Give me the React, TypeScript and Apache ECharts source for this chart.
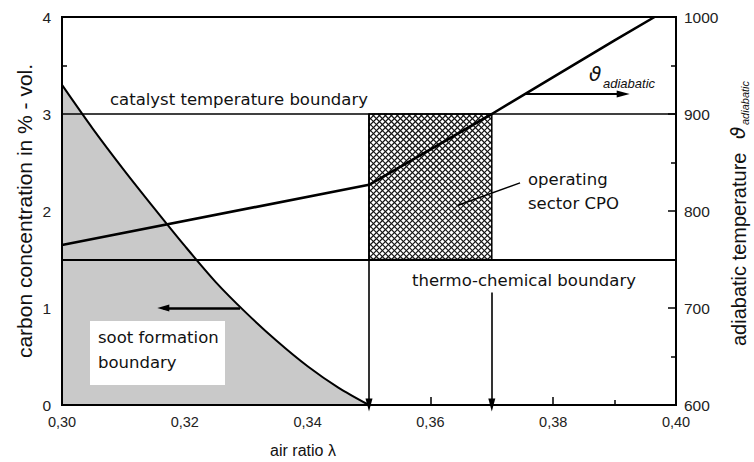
import React, { useEffect, useRef } from "react";
import * as echarts from "echarts";

// ---- data ----
const xTicks = [0.3, 0.32, 0.34, 0.36, 0.38, 0.4];
const lambdaSoot = [0.3, 0.305, 0.31, 0.315, 0.32, 0.325, 0.33, 0.335, 0.34, 0.345, 0.35];
const carbonSoot = [3.3, 2.85, 2.43, 2.03, 1.64, 1.27, 0.95, 0.66, 0.4, 0.18, 0];
const lambdaTemp = [0.3, 0.35, 0.37, 0.38, 0.39, 0.3965];
const tempAdiabatic = [765, 827, 900, 938, 976, 1000];
const catalystBoundary = 3.0; // carbon axis
const thermoBoundary = 1.5; // carbon axis
const operatingLambda = [0.35, 0.37];
const operatingCarbon = [1.5, 3.0];
const sootArrow = { from: [0.329, 1.0], to: [0.3165, 1.0] };
const tempArrow = { from: [0.3755, 3.206], to: [0.3914, 3.206] };
const leader = { from: [0.3746, 2.29], to: [0.3645, 2.06] };
const arrow037Start = 1.16;

const FONT = "DejaVu Sans";
const TICKFONT = "Liberation Sans, Arial, sans-serif";

function hatchItem(params: any, api: any) {
  const p0 = api.coord([api.value(0), api.value(1)]);
  const p1 = api.coord([api.value(2), api.value(3)]);
  const x0 = Math.min(p0[0], p1[0]);
  const x1 = Math.max(p0[0], p1[0]);
  const y0 = Math.min(p0[1], p1[1]);
  const y1 = Math.max(p0[1], p1[1]);
  const s = 6;
  const children: any[] = [];
  const style = { stroke: "#111", lineWidth: 1.1 };
  for (let k = y0 - x1; k <= y1 - x0; k += s) {
    const xa = Math.max(x0, y0 - k);
    const xb = Math.min(x1, y1 - k);
    if (xa < xb) children.push({ type: "line", shape: { x1: xa, y1: xa + k, x2: xb, y2: xb + k }, style });
  }
  for (let k = x0 + y0; k <= x1 + y1; k += s) {
    const xa = Math.max(x0, k - y1);
    const xb = Math.min(x1, k - y0);
    if (xa < xb) children.push({ type: "line", shape: { x1: xa, y1: k - xa, x2: xb, y2: k - xb }, style });
  }
  children.push({
    type: "rect",
    shape: { x: x0, y: y0, width: x1 - x0, height: y1 - y0 },
    style: { fill: "none", stroke: "#000", lineWidth: 1.5 },
  });
  return { type: "group", children };
}

export default function App() {
  const ref = useRef<HTMLDivElement>(null);
  useEffect(() => {
    document.body.style.margin = "0";
    const chart = echarts.init(ref.current!, null, { renderer: "svg" });
    const lineSt = { color: "#000", width: 1.6, type: "solid" as const };
    const option: any = {
      animation: false,
      backgroundColor: "#fff",
      grid: { left: 62, right: 78, top: 17, bottom: 57, show: true, borderColor: "#000", borderWidth: 2, backgroundColor: "transparent", z: 10 },
      xAxis: {
        type: "value",
        min: 0.3,
        max: 0.4,
        interval: 0.02,
        axisLine: { show: true, lineStyle: { color: "#000", width: 2 } },
        axisTick: { show: true, inside: true, length: 8, lineStyle: { color: "#000", width: 1.5 } },
        minorTick: { show: true, splitNumber: 2, length: 5, lineStyle: { color: "#000", width: 1.5 } },
        splitLine: { show: false },
        axisLabel: {
          color: "#222",
          fontFamily: TICKFONT,
          fontSize: 14.5,
          margin: 9,
          formatter: (v: number) => v.toFixed(2).replace(".", ","),
        },
      },
      yAxis: [
        {
          type: "value",
          min: 0,
          max: 4,
          interval: 1,
          position: "left",
          axisLine: { show: true, lineStyle: { color: "#000", width: 2 } },
          axisTick: { show: true, inside: true, length: 8, lineStyle: { color: "#000", width: 1.5 } },
          minorTick: { show: true, splitNumber: 2, length: 5, lineStyle: { color: "#000", width: 1.5 } },
          splitLine: { show: false },
          axisLabel: { color: "#222", fontFamily: TICKFONT, fontSize: 15.5, margin: 11 },
        },
        {
          type: "value",
          min: 600,
          max: 1000,
          interval: 100,
          position: "right",
          axisLine: { show: true, lineStyle: { color: "#000", width: 2 } },
          axisTick: { show: true, inside: true, length: 8, lineStyle: { color: "#000", width: 1.5 } },
          minorTick: { show: true, splitNumber: 2, length: 5, lineStyle: { color: "#000", width: 1.5 } },
          splitLine: { show: false },
          axisLabel: { color: "#222", fontFamily: TICKFONT, fontSize: 15.5, margin: 8, formatter: (v: number) => String(v) },
        },
      ],
      series: [
        {
          type: "line",
          name: "soot",
          data: lambdaSoot.map((l, i) => [l, carbonSoot[i]]),
          smooth: 0.3,
          symbol: "none",
          z: 1,
          lineStyle: { color: "#000", width: 2 },
          areaStyle: { color: "#c9c9c9", opacity: 1, origin: "start" },
          markLine: {
            silent: true,
            z: 3,
            label: { show: false },
            data: [
              [
                { coord: sootArrow.from, symbol: "none" },
                { coord: sootArrow.to, symbol: "triangle", symbolSize: [7, 12] },
              ],
            ],
            lineStyle: { color: "#000", width: 2.5, type: "solid" },
          },
        },
        {
          type: "custom",
          name: "operating",
          renderItem: hatchItem,
          encode: { x: [0, 2], y: [1, 3] },
          data: [[operatingLambda[0], operatingCarbon[1], operatingLambda[1], operatingCarbon[0]]],
          z: 2,
          silent: true,
        },
        {
          type: "line",
          name: "lines",
          data: [],
          symbol: "none",
          z: 3,
          markLine: {
            silent: true,
            symbol: ["none", "none"],
            label: { show: false },
            lineStyle: lineSt,
            data: [
              [{ coord: [0.3, catalystBoundary] }, { coord: [0.4, catalystBoundary] }],
              [{ coord: [0.3, thermoBoundary], lineStyle: { width: 2 } }, { coord: [0.4, thermoBoundary] }],
              [
                { coord: [operatingLambda[0], operatingCarbon[1]], symbol: "none" },
                { coord: [operatingLambda[0], 0], symbol: "triangle", symbolSize: [7, 13] },
              ],
              [
                { coord: [operatingLambda[1], arrow037Start], symbol: "none" },
                { coord: [operatingLambda[1], 0], symbol: "triangle", symbolSize: [7, 13] },
              ],
              [
                { coord: tempArrow.from, symbol: "none", lineStyle: { width: 2.2 } },
                { coord: tempArrow.to, symbol: "triangle", symbolSize: [7, 13] },
              ],
              [
                { coord: leader.from, lineStyle: { width: 1.5 } },
                { coord: leader.to },
              ],
            ],
          },
        },
        {
          type: "line",
          name: "temperature",
          yAxisIndex: 1,
          data: lambdaTemp.map((l, i) => [l, tempAdiabatic[i]]),
          symbol: "none",
          z: 4,
          lineStyle: { color: "#000", width: 2.6 },
        },
      ],
      graphic: [
        {
          type: "rect",
          z: 50,
          shape: { x: 90, y: 321, width: 135, height: 64 },
          style: { fill: "#fff" },
        },
        {
          type: "text",
          z: 51,
          x: 98,
          y: 337,
          style: { text: "soot formation", font: `16.5px ${FONT}`, fill: "#111", verticalAlign: "middle" },
        },
        {
          type: "text",
          z: 51,
          x: 98,
          y: 362,
          style: { text: "boundary", font: `16.5px ${FONT}`, fill: "#111", verticalAlign: "middle" },
        },
        {
          type: "text",
          z: 51,
          x: 110,
          y: 99,
          style: { text: "catalyst temperature boundary", font: `16.5px ${FONT}`, fill: "#111", verticalAlign: "middle" },
        },
        {
          type: "text",
          z: 51,
          x: 412,
          y: 280.5,
          style: { text: "thermo-chemical boundary", font: `16.5px ${FONT}`, fill: "#111", verticalAlign: "middle" },
        },
        {
          type: "text",
          z: 51,
          x: 528,
          y: 179,
          style: { text: "operating", font: `16.5px ${FONT}`, fill: "#111", verticalAlign: "middle" },
        },
        {
          type: "text",
          z: 51,
          x: 528,
          y: 203,
          style: { text: "sector CPO", font: `16.5px ${FONT}`, fill: "#111", verticalAlign: "middle" },
        },
        {
          type: "text",
          z: 51,
          x: 589,
          y: 74,
          style: { text: "ϑ", font: `italic 20px ${FONT}`, fill: "#111", verticalAlign: "middle" },
        },
        {
          type: "text",
          z: 51,
          x: 603,
          y: 83,
          style: { text: "adiabatic", font: `italic 13px ${TICKFONT}`, fill: "#111", verticalAlign: "middle" },
        },
        {
          type: "text",
          z: 51,
          x: 303,
          y: 450,
          style: { text: "air ratio λ", font: `16px ${TICKFONT}`, fill: "#111", align: "center", verticalAlign: "middle" },
        },
        {
          type: "text",
          z: 51,
          x: 24,
          y: 211,
          rotation: Math.PI / 2,
          style: { text: "carbon concentration in % - vol.", font: `21px ${TICKFONT}`, fill: "#111", align: "center", verticalAlign: "middle" },
        },
        {
          type: "group",
          z: 51,
          x: 739,
          y: 346,
          rotation: Math.PI / 2,
          children: [
            {
              type: "text",
              x: 0,
              y: 0,
              style: { text: "adiabatic temperature", font: `20px ${TICKFONT}`, fill: "#111", verticalAlign: "middle" },
            },
            {
              type: "text",
              x: 207,
              y: -1,
              style: { text: "ϑ", font: `italic 20px ${FONT}`, fill: "#111", verticalAlign: "middle" },
            },
            {
              type: "text",
              x: 221,
              y: 6,
              style: { text: "adiabatic", font: `italic 11px ${TICKFONT}`, fill: "#111", verticalAlign: "middle" },
            },
          ],
        },
      ],
    };
    chart.setOption(option);
    return () => chart.dispose();
  }, []);
  return (
    <div
      ref={ref}
      style={{ position: "absolute", left: 0, top: 0, width: 754, height: 462, background: "#fff" }}
    />
  );
}
